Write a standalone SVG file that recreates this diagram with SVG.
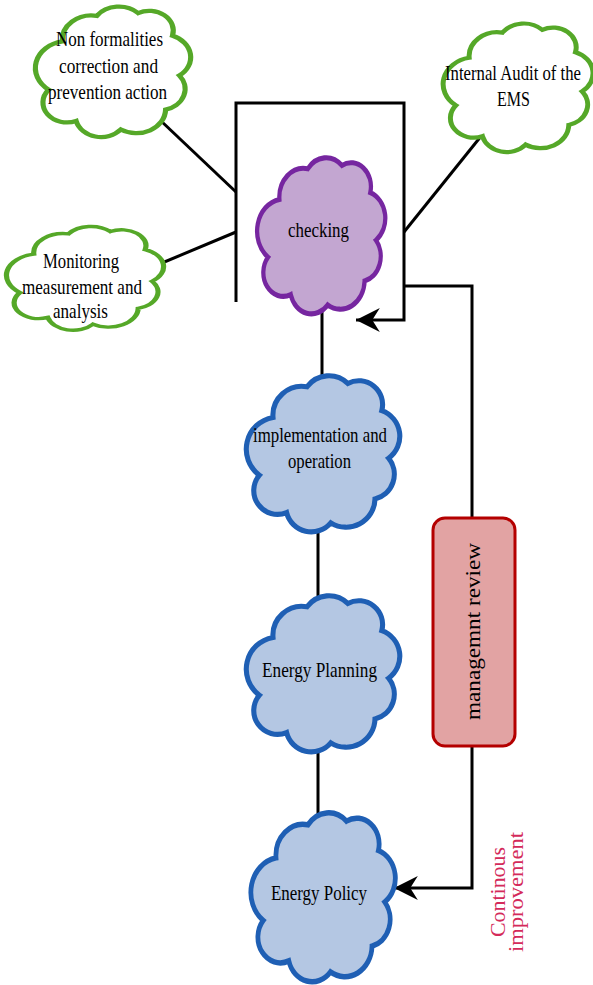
<svg xmlns="http://www.w3.org/2000/svg" xmlns:xlink="http://www.w3.org/1999/xlink" width="593" height="985" viewBox="0 0 593 985">
<style>
.cl{stroke-width:3;vector-effect:non-scaling-stroke}
.g{fill:#ffffff;stroke:#55a828}
.b{fill:#b4c7e3;stroke:#1f5fb4}
.p{fill:#c3a6d1;stroke:#7626a0}
.t{font-family:"Liberation Serif","Times New Roman",serif;font-size:21px;fill:#000}
.c{stroke:#000;stroke-width:3;fill:none}
</style>
<defs>
<path id="cloud" d="M 20 32 A 17 17 0 0 1 40 14 A 16 16 0 0 1 64 12 A 14 14 0 0 1 84 28 A 16 16 0 0 1 88 56 A 15 15 0 0 1 80 80 A 17 17 0 0 1 54 94 A 15 15 0 0 1 28 88 A 14 14 0 0 1 12 66 A 19 19 0 0 1 20 32 Z"/>
<marker id="ah" markerUnits="userSpaceOnUse" markerWidth="26" markerHeight="24" refX="22" refY="11" orient="auto" viewBox="0 0 24 22">
<path d="M0,0 L22,11 L0,22 L7,11 Z" fill="#000"/>
</marker>
</defs>
<g id="connectors">
<line class="c" x1="160" y1="120" x2="236" y2="192"/>
<line class="c" x1="150" y1="268" x2="236" y2="232"/>
<line class="c" x1="486" y1="130" x2="404" y2="232"/>
<polyline class="c" points="236,302 236,103 404,103 404,320 356,320" marker-end="url(#ah)"/>
<polyline class="c" points="472,518 472,286 404,286"/>
<polyline class="c" points="472,746 472,888 394,888" marker-end="url(#ah)"/>
<line class="c" x1="322" y1="310" x2="322" y2="377"/>
<line class="c" x1="318" y1="530" x2="318" y2="597"/>
<line class="c" x1="318" y1="750" x2="318" y2="814"/>
</g>
<g id="nonformalities">
<use xlink:href="#cloud" class="cl g" transform="translate(28,-4) scale(1.72,1.42)"/>
<text class="t" x="56" y="46" textLength="107" lengthAdjust="spacingAndGlyphs">Non formalities</text>
<text class="t" x="59" y="73" textLength="99" lengthAdjust="spacingAndGlyphs">correction and</text>
<text class="t" x="48" y="99" textLength="119" lengthAdjust="spacingAndGlyphs">prevention action</text>
</g>
<g id="internalaudit">
<use xlink:href="#cloud" class="cl g" transform="translate(436,13) scale(1.66,1.4)"/>
<text class="t" x="445" y="80" textLength="136" lengthAdjust="spacingAndGlyphs">Internal Audit of the</text>
<text class="t" x="497" y="106" textLength="33" lengthAdjust="spacingAndGlyphs">EMS</text>
</g>
<g id="monitoring">
<use xlink:href="#cloud" class="cl g" transform="translate(-1,218) scale(1.74,1.13)"/>
<text class="t" x="43" y="268" textLength="76" lengthAdjust="spacingAndGlyphs">Monitoring</text>
<text class="t" x="22" y="294" textLength="120" lengthAdjust="spacingAndGlyphs">measurement and</text>
<text class="t" x="53" y="318" textLength="55" lengthAdjust="spacingAndGlyphs">analysis</text>
</g>
<g id="checking">
<use xlink:href="#cloud" class="cl p" transform="translate(251,145) scale(1.42,1.7)"/>
<text class="t" x="288" y="237" textLength="61" lengthAdjust="spacingAndGlyphs">checking</text>
</g>
<g id="implementation">
<use xlink:href="#cloud" class="cl b" transform="translate(239,363) scale(1.7,1.7)"/>
<text class="t" x="253" y="442" textLength="134" lengthAdjust="spacingAndGlyphs">implementation and</text>
<text class="t" x="288" y="468" textLength="63" lengthAdjust="spacingAndGlyphs">operation</text>
</g>
<g id="energyplanning">
<use xlink:href="#cloud" class="cl b" transform="translate(239,583) scale(1.7,1.7)"/>
<text class="t" x="262" y="677" textLength="115" lengthAdjust="spacingAndGlyphs">Energy Planning</text>
</g>
<g id="energypolicy">
<use xlink:href="#cloud" class="cl b" transform="translate(244,799) scale(1.6,1.84)"/>
<text class="t" x="271" y="900" textLength="96" lengthAdjust="spacingAndGlyphs">Energy Policy</text>
</g>
<g id="management">
<rect x="433" y="518" width="82" height="228" rx="12" ry="12" fill="#e2a3a3" stroke="#b40000" stroke-width="3"/>
<text class="t" transform="translate(480,720) rotate(-90)" x="0" y="0" textLength="177" lengthAdjust="spacingAndGlyphs">managemnt review</text>
</g>
<g id="continous">
<text class="t" style="fill:#d42a5a" transform="translate(505,937) rotate(-90)" x="0" y="0" textLength="90" lengthAdjust="spacingAndGlyphs">Continous</text>
<text class="t" style="fill:#d42a5a" transform="translate(523,952) rotate(-90)" x="0" y="0" textLength="120" lengthAdjust="spacingAndGlyphs">improvement</text>
</g>
</svg>
